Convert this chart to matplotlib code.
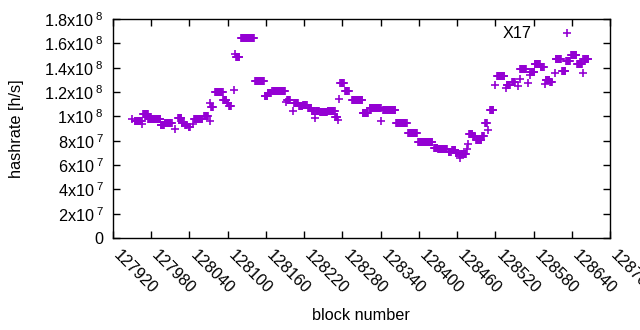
import numpy as np
import matplotlib
matplotlib.use('Agg')
import matplotlib.pyplot as plt

plt.rcParams['font.family'] = ['Liberation Sans', 'DejaVu Sans']
plt.rcParams['mathtext.fontset'] = 'custom'
plt.rcParams['mathtext.rm'] = 'Liberation Sans'
plt.rcParams['mathtext.it'] = 'Liberation Sans'
plt.rcParams['mathtext.bf'] = 'Liberation Sans'

# runs of consecutive blocks sharing one hashrate value
run_start = [
    127950, 127954, 127965, 127967, 127975, 127995, 128001, 128017, 128022, 128028,
    128033, 128039, 128045, 128047, 128063, 128072, 128073, 128074, 128080, 128093,
    128099, 128102, 128110, 128112, 128113, 128121, 128143, 128158, 128159, 128163,
    128170, 128191, 128193, 128202, 128204, 128212, 128218, 128226, 128232, 128237,
    128238, 128245, 128257, 128269, 128273, 128275, 128277, 128284, 128295, 128312,
    128323, 128341, 128344, 128364, 128383, 128399, 128424, 128430, 128447, 128452,
    128458, 128463, 128465, 128466, 128476, 128477, 128479, 128485, 128490, 128499,
    128504, 128509, 128512, 128519, 128523, 128536, 128538, 128546, 128555, 128558,
    128559, 128571, 128574, 128575, 128582, 128591, 128598, 128599, 128606, 128613,
    128615, 128625, 128631, 128639, 128648, 128657, 128658,
]
run_len = [
    1, 12, 1, 9, 20, 6, 12, 1, 6, 4,
    4, 3, 1, 14, 7, 1, 1, 4, 13, 6,
    3, 4, 1, 1, 6, 21, 15, 1, 4, 6,
    21, 1, 6, 1, 7, 6, 7, 6, 5, 1,
    6, 12, 12, 4, 1, 1, 6, 7, 17, 9,
    18, 1, 20, 18, 15, 23, 6, 15, 4, 6,
    4, 2, 1, 9, 1, 1, 6, 4, 9, 4,
    4, 1, 6, 1, 12, 1, 6, 6, 1, 1,
    10, 1, 1, 7, 9, 6, 1, 7, 4, 1,
    9, 6, 7, 9, 9, 1, 9,
]
# hashrate in units of 1e8 h/s
run_hashrate = [
    0.98, 0.96, 0.94, 1.02, 0.98, 0.925, 0.945, 0.90, 0.99, 0.947,
    0.93, 0.912, 0.933, 0.978, 1.006, 0.965, 1.107, 1.08, 1.203, 1.137,
    1.11, 1.082, 1.217, 1.511, 1.489, 1.64, 1.293, 1.17, 1.17, 1.192,
    1.208, 1.121, 1.137, 1.042, 1.107, 1.088, 1.094, 1.072, 1.047, 0.988,
    1.047, 1.035, 1.043, 0.992, 0.971, 1.143, 1.274, 1.211, 1.135, 1.028,
    1.069, 0.965, 1.053, 0.947, 0.862, 0.791, 0.742, 0.732, 0.706, 0.72,
    0.698, 0.687, 0.66, 0.687, 0.734, 0.769, 0.851, 0.835, 0.808, 0.835,
    0.947, 0.884, 1.053, 1.258, 1.334, 1.23, 1.258, 1.285, 1.252, 1.307,
    1.388, 1.274, 1.339, 1.361, 1.429, 1.402, 1.266, 1.298, 1.279, 1.356,
    1.47, 1.369, 1.451, 1.503, 1.429, 1.356, 1.47,
]

x_ticks = [127920, 127980, 128040, 128100, 128160, 128220, 128280,
           128340, 128400, 128460, 128520, 128580, 128640, 128700]
y_ticks = [0, 2e7, 4e7, 6e7, 8e7, 1e8, 1.2e8, 1.4e8, 1.6e8, 1.8e8]
y_tick_labels = ['0', r'2x10$^{\;7}$', r'4x10$^{\;7}$', r'6x10$^{\;7}$',
                 r'8x10$^{\;7}$', r'1x10$^{\;8}$', r'1.2x10$^{\;8}$',
                 r'1.4x10$^{\;8}$', r'1.6x10$^{\;8}$', r'1.8x10$^{\;8}$']

blocks = np.concatenate([np.arange(s, s + n) for s, n in zip(run_start, run_len)])
hashrate = np.concatenate([np.full(n, v * 1e8) for n, v in zip(run_len, run_hashrate)])

FS = 11.7

fig = plt.figure(figsize=(6.4, 3.3), dpi=100)
ax = fig.add_axes([113 / 640, 1 - 238 / 330, 497 / 640, 219 / 330])

ax.plot(blocks, hashrate, linestyle='none', marker='+', markersize=5.5,
        markeredgewidth=1.2, color='#9400D3', label='X17')

ax.set_xlim(127920, 128700)
ax.set_ylim(0, 1.8e8)
ax.set_xticks(x_ticks, [str(t) for t in x_ticks])
ax.set_yticks(y_ticks, y_tick_labels)

ax.tick_params(direction='in', length=5, width=1, top=True, right=True,
               labelsize=FS, colors='black')
ax.tick_params(axis='y', pad=7)
ax.tick_params(axis='x', pad=13)
for lbl in ax.get_xticklabels():
    lbl.set_rotation(-45)
    lbl.set_ha('left')
    lbl.set_va('baseline')
    lbl.set_rotation_mode('anchor')
for sp in ax.spines.values():
    sp.set_linewidth(1)

fig.text(17 / 640, 1 - 129 / 330, 'hashrate [h/s]', rotation=90,
         ha='center', va='center', fontsize=FS)
fig.text(361 / 640, 1 - 315 / 330, 'block number', ha='center', va='center',
         fontsize=FS)

ax.legend(loc='upper right', bbox_to_anchor=(0.946, 0.967), frameon=False,
          markerfirst=False, borderpad=0, borderaxespad=0, handlelength=2,
          handletextpad=1.2, fontsize=FS)

fig.savefig('out.png', dpi=100)
